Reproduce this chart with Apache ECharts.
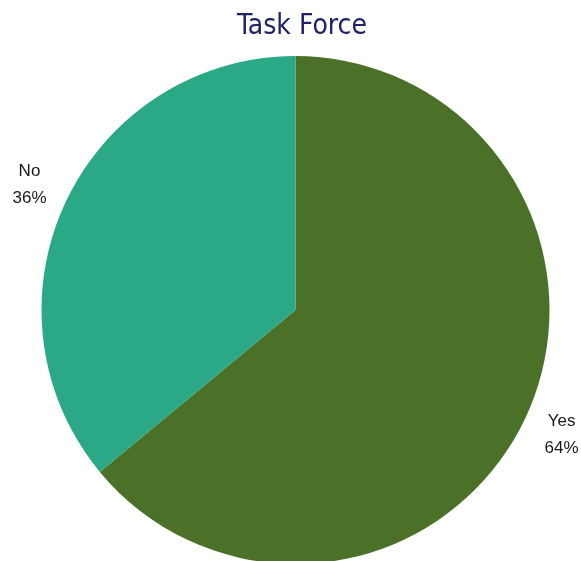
<!DOCTYPE html>
<html>
<head>
<meta charset="utf-8">
<script src="https://cdn.jsdelivr.net/npm/echarts@6/dist/echarts.min.js"></script>
<style>
  html, body { margin: 0; padding: 0; background: #ffffff; }
  #chart { width: 581px; height: 561px; }
</style>
</head>
<body>
<div id="chart"></div>
<script>
// Survey answers for the task force question
const answers = ['Yes', 'No'];
const shares = [64, 36];
const sliceColors = ['#4b7129', '#2ba886'];

const chart = echarts.init(document.getElementById('chart'), null, { renderer: 'canvas' });

chart.setOption({
  animation: false,
  title: {
    text: 'Task Force',
    left: 237,
    top: 13,
    padding: 0,
    textStyle: {
      fontFamily: '"DejaVu Sans Condensed", "Liberation Sans Narrow", sans-serif',
      fontWeight: 'normal',
      fontSize: 28,
      color: '#1f2266'
    }
  },
  series: [{
    type: 'pie',
    center: [295.5, 310],
    radius: 254,
    startAngle: 90,
    clockwise: true,
    avoidLabelOverlap: false,
    data: answers.map((name, i) => ({
      name: name,
      value: shares[i],
      itemStyle: { color: sliceColors[i] }
    })),
    label: {
      show: true,
      position: 'outside',
      distanceToLabelLine: -20,
      formatter: '{t|{b}}\n{t|{d}%}',
      rich: {
        t: {
          width: 40,
          align: 'center',
          fontFamily: '"Liberation Sans", Arial, sans-serif',
          fontSize: 17,
          lineHeight: 27,
          color: '#1a1a1a'
        }
      }
    },
    labelLine: { show: false, length: 40, length2: 0 }
  }]
});
</script>
</body>
</html>
